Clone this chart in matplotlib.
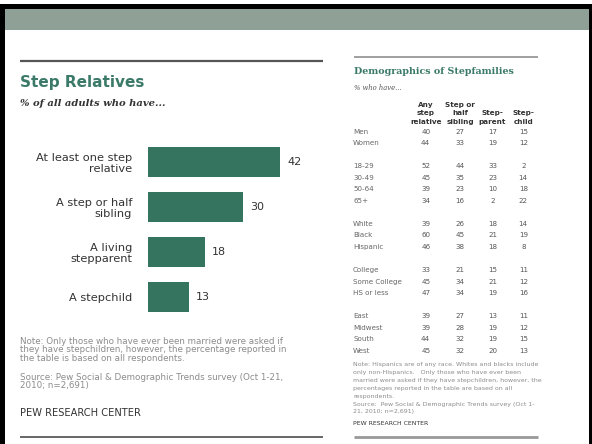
import matplotlib
matplotlib.use("Agg")
import matplotlib.pyplot as plt
from matplotlib.patches import Rectangle

# ---- data -------------------------------------------------------------
categories = ["At least one step\nrelative", "A step or half\nsibling",
              "A living\nstepparent", "A stepchild"]
shares = [42, 30, 18, 13]

row_labels = ["Men", "Women",
              "18-29", "30-49", "50-64", "65+",
              "White", "Black", "Hispanic",
              "College", "Some College", "HS or less",
              "East", "Midwest", "South", "West"]
group_sizes = [2, 4, 3, 3, 4]
col_headers = ["Any\nstep\nrelative", "Step or\nhalf\nsibling", "Step-\nparent", "Step-\nchild"]
any_step = [40, 44, 52, 45, 39, 34, 39, 60, 46, 33, 45, 47, 39, 39, 44, 45]
step_sibling = [27, 33, 44, 35, 23, 16, 26, 45, 38, 21, 34, 34, 27, 28, 32, 32]
step_parent = [17, 19, 33, 23, 10, 2, 18, 21, 18, 15, 21, 19, 13, 19, 19, 20]
step_child = [15, 12, 2, 14, 18, 22, 14, 19, 8, 11, 12, 16, 11, 12, 15, 13]

left_note = ["Note: Only those who have ever been married were asked if",
             "they have stepchildren, however, the percentage reported in",
             "the table is based on all respondents."]
left_source = ["Source: Pew Social & Demographic Trends survey (Oct 1-21,",
               "2010; n=2,691)"]
right_note = ["Note: Hispanics are of any race. Whites and blacks include",
              "only non-Hispanics.   Only those who have ever been",
              "married were asked if they have stepchildren, however, the",
              "percentages reported in the table are based on all",
              "respondents."]
right_source = ["Source:  Pew Social & Demographic Trends survey (Oct 1-",
                "21, 2010; n=2,691)"]

# ---- style ------------------------------------------------------------
W, H = 592, 444
BAR = "#35745f"
TEAL = "#3b7a68"
HEADER = "#8fa096"
NOTE = "#8c8c8c"

fig = plt.figure(figsize=(W / 100, H / 100), dpi=100, facecolor="white")

# background layer in pixel coordinates
bg = fig.add_axes([0, 0, 1, 1], zorder=0)
bg.set_xlim(0, W)
bg.set_ylim(H, 0)
bg.axis("off")

bg.add_patch(Rectangle((0, 4), W, 5, color="black", lw=0))
bg.add_patch(Rectangle((0, 4), 5, H, color="black", lw=0))
bg.add_patch(Rectangle((589, 4), 3, H, color="black", lw=0))
bg.add_patch(Rectangle((5, 9), 584, 21, color=HEADER, lw=0))

bg.plot([20, 323], [61, 61], color="#555555", lw=1.6, solid_capstyle="butt")
bg.plot([20, 323], [437, 437], color="#666666", lw=1.4, solid_capstyle="butt")
bg.plot([354, 538], [57, 57], color="#a0a0a0", lw=1.4, solid_capstyle="butt")
bg.plot([354, 538], [437, 437], color="#999999", lw=2.0, solid_capstyle="butt")

bg.text(20, 82, "Step Relatives", fontsize=11, fontweight="bold", color=TEAL,
        va="center", ha="left")
bg.text(20, 103, "% of all adults who have...", fontsize=7.2, family="DejaVu Serif",
        style="italic", fontweight="bold", color="#333333", va="center")

for i, line in enumerate(left_note):
    bg.text(20, 341 + i * 8.7, line, fontsize=6.3, color=NOTE, va="center")
for i, line in enumerate(left_source):
    bg.text(20, 377 + i * 8.7, line, fontsize=6.3, color=NOTE, va="center")
bg.text(20, 413, "PEW RESEARCH CENTER", fontsize=7.1, color="#333333", va="center")

bg.text(354, 72, "Demographics of Stepfamilies", fontsize=6.8, family="DejaVu Serif",
        fontweight="bold", color=TEAL, va="center")
bg.text(354, 88, "% who have...", fontsize=4.9, family="DejaVu Serif",
        style="italic", color="#555555", va="center")

for i, line in enumerate(right_note):
    bg.text(353, 364 + i * 8.1, line, fontsize=4.5, color=NOTE, va="center")
for i, line in enumerate(right_source):
    bg.text(353, 404 + i * 7.4, line, fontsize=4.5, color=NOTE, va="center")
bg.text(353, 423, "PEW RESEARCH CENTER", fontsize=4.4, color="#333333", va="center")

# ---- bar chart --------------------------------------------------------
px = 3.16  # pixels per percentage point
ax = fig.add_axes([147.7 / W, 1 - 319.5 / H, 182.3 / W, 180 / H], zorder=1)
ax.set_facecolor("none")
ypos = list(range(len(categories)))
ax.barh(ypos, shares, height=0.667, color=BAR)
for y, v in zip(ypos, shares):
    ax.text(v + 2.3, y, str(v), fontsize=8, color="#333333", va="center", ha="left")
ax.set_xlim(0, 182.3 / px)
ax.set_ylim(3.5, -0.5)
ax.set_yticks(ypos)
ax.set_yticklabels(categories, fontsize=8.2, color="#333333", linespacing=1.1)
ax.tick_params(axis="y", length=0, pad=11.3)
ax.set_xticks([])
for s in ax.spines.values():
    s.set_visible(False)

# ---- table ------------------------------------------------------------
rows = []
idx = 0
for g in group_sizes:
    rows.extend(range(idx, idx + g))
    idx += g + 1
n_slots = idx - 1

tab = fig.add_axes([340 / W, 1 - 356.5 / H, 205 / W, 230.6 / H], zorder=1)
tab.set_xlim(340, 545)
tab.set_ylim(n_slots - 0.5, -0.5)
tab.axis("off")

col_x = [425.7, 460, 492.5, 523.3]
for x, head in zip(col_x, col_headers):
    tab.text(x, -0.6, head, fontsize=5.2, fontweight="bold", color="#333333",
             ha="center", va="bottom", linespacing=1.45)
for r, lab in zip(rows, row_labels):
    tab.text(353, r, lab, fontsize=5.1, color="#666666", ha="left", va="center")
for x, col in zip(col_x, [any_step, step_sibling, step_parent, step_child]):
    for r, v in zip(rows, col):
        tab.text(x, r, str(v), fontsize=5.1, color="#555555", ha="center", va="center")

fig.savefig("out.png", dpi=100, facecolor="white")
